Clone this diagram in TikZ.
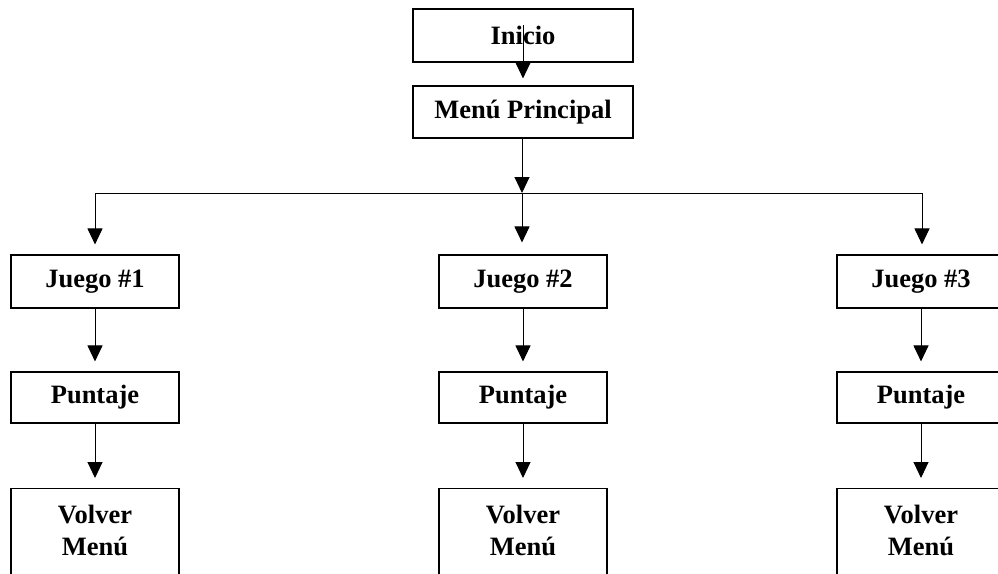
\documentclass[tikz,border=0pt]{standalone}
\usepackage{fontspec}
\setmainfont{Liberation Serif}
\usetikzlibrary{arrows.meta}
\begin{document}
\begin{tikzpicture}[x=1pt,y=-1pt,
  every node/.style={font=\fontsize{26.5}{32}\selectfont\bfseries},
  box/.style={draw,line width=1.1pt,rectangle,inner sep=0pt,minimum width=168pt},
  hbox/.style={box,minimum height=53pt},
  tbox/.style={box,minimum height=120pt,anchor=north},
  lbl/.style={align=center,inner sep=0pt},
  link/.style={line width=1pt,-{Triangle[width=15pt,length=16pt]}},
  wire/.style={line width=1pt}]
\useasboundingbox (0,0) rectangle (998,573);
\clip (0,0) rectangle (998,573);

% top of the chart
\node[hbox,minimum width=220pt] (ini) at (523,35.5) {Inicio};
\node[hbox,minimum width=220pt,minimum height=52pt] (menu) at (523,112) {Menú Principal};
\coordinate (iniin) at (523,25);
\draw[link,shorten >=7pt] (iniin) -- (menu.north);

% branch bus
\coordinate (bus) at (522,193);
\coordinate (busL) at (95,193);
\coordinate (busR) at (922,193);
\draw[link] (menu.south -| bus) -- (bus);
\draw[wire] (busL) -- (busR);

% three columns
\foreach \i/\x in {1/95,2/523,3/921}{
  \node[hbox] (j\i) at (\x,281.5) {Juego \#\i};
  \node[hbox,minimum height=51pt] (p\i) at (\x,397.5) {Puntaje};
  \node[tbox] (v\i) at (\x,488) {};
  \node[lbl] (vt\i) at (\x,530) {Volver\\Menú};
  \draw[link,shorten >=10pt] (j\i.south) -- (p\i.north);
  \draw[link,shorten >=10pt] (p\i.south) -- (v\i.north);
}
\draw[link,shorten >=10pt] (busL) -- (j1.north);
\draw[link,shorten >=12pt] (bus) -- (j2.north -| bus);
\draw[link,shorten >=10pt] (busR) -- (j3.north -| busR);
\end{tikzpicture}
\end{document}
